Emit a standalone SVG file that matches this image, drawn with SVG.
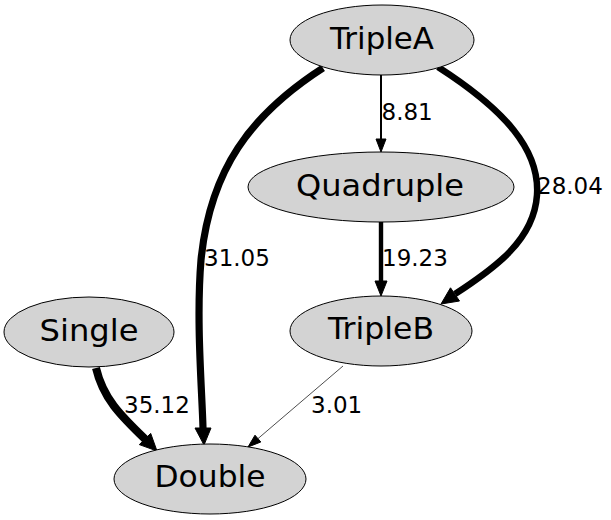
<svg xmlns="http://www.w3.org/2000/svg" width="611" height="520" viewBox="0 0 611 520">
<style>
.node ellipse{fill:#d3d3d3;stroke:#000;stroke-width:1}
.node text{font-family:"DejaVu Sans",sans-serif;font-size:29.5px;text-anchor:middle;fill:#000}
.edge path,.edge line{fill:none;stroke:#000}
.edge polygon{fill:#000;stroke:#000;stroke-width:1;stroke-linejoin:miter}
.lbl{font-family:"DejaVu Sans",sans-serif;font-size:23px;fill:#000}
</style>
<rect width="611" height="520" fill="#fff"/>
<g id="connectors">
  <g class="edge" id="e_TripleA_Quadruple">
    <line x1="381" y1="75" x2="381" y2="140" stroke-width="2"/>
    <polygon points="376,139 386,139 381,152"/>
    <text class="lbl" x="381.5" y="120">8.81</text>
  </g>
  <g class="edge" id="e_Quadruple_TripleB">
    <line x1="381" y1="222" x2="381" y2="283" stroke-width="4.4"/>
    <polygon points="375,281 387,281 381,296"/>
    <text class="lbl" x="382" y="266">19.23</text>
  </g>
  <g class="edge" id="e_TripleA_Double">
    <path d="M323,68 C250,115 210,170 201,260 C196,320 202,390 203,428" stroke-width="7.2"/>
    <polygon points="195,428 211,428 204,445"/>
    <text class="lbl" x="204" y="266">31.05</text>
  </g>
  <g class="edge" id="e_TripleA_TripleB">
    <path d="M438,67 C505,110 540,150 537,195 C534,240 495,268 455,294" stroke-width="6.5"/>
    <polygon points="459.5,301 450.5,287.8 441,304"/>
    <text class="lbl" x="537" y="194">28.04</text>
  </g>
  <g class="edge" id="e_Single_Double">
    <path d="M96,368 C103,398 120,415 145,439" stroke-width="8"/>
    <polygon points="150.7,433.4 139.3,444.6 157,451"/>
    <text class="lbl" x="124" y="413">35.12</text>
  </g>
  <g class="edge" id="e_TripleB_Double">
    <line x1="343" y1="366" x2="258" y2="438.6" stroke-width="0.7"/>
    <polygon points="260.8,442 255,435.2 248,447"/>
    <text class="lbl" x="311" y="413">3.01</text>
  </g>
</g>
<g class="node" id="TripleA"><ellipse cx="382" cy="40" rx="92" ry="35"/><text x="382" y="48.5" textLength="104" lengthAdjust="spacingAndGlyphs">TripleA</text></g>
<g class="node" id="Quadruple"><ellipse cx="381" cy="187" rx="133" ry="35"/><text x="380" y="195.5" textLength="168" lengthAdjust="spacingAndGlyphs">Quadruple</text></g>
<g class="node" id="TripleB"><ellipse cx="381" cy="331" rx="91" ry="35"/><text x="381" y="338.5" textLength="106" lengthAdjust="spacingAndGlyphs">TripleB</text></g>
<g class="node" id="Single"><ellipse cx="89" cy="332" rx="85" ry="35"/><text x="89" y="340.5" textLength="99" lengthAdjust="spacingAndGlyphs">Single</text></g>
<g class="node" id="Double"><ellipse cx="210" cy="479" rx="96" ry="35"/><text x="210" y="486.5" textLength="111" lengthAdjust="spacingAndGlyphs">Double</text></g>
</svg>
